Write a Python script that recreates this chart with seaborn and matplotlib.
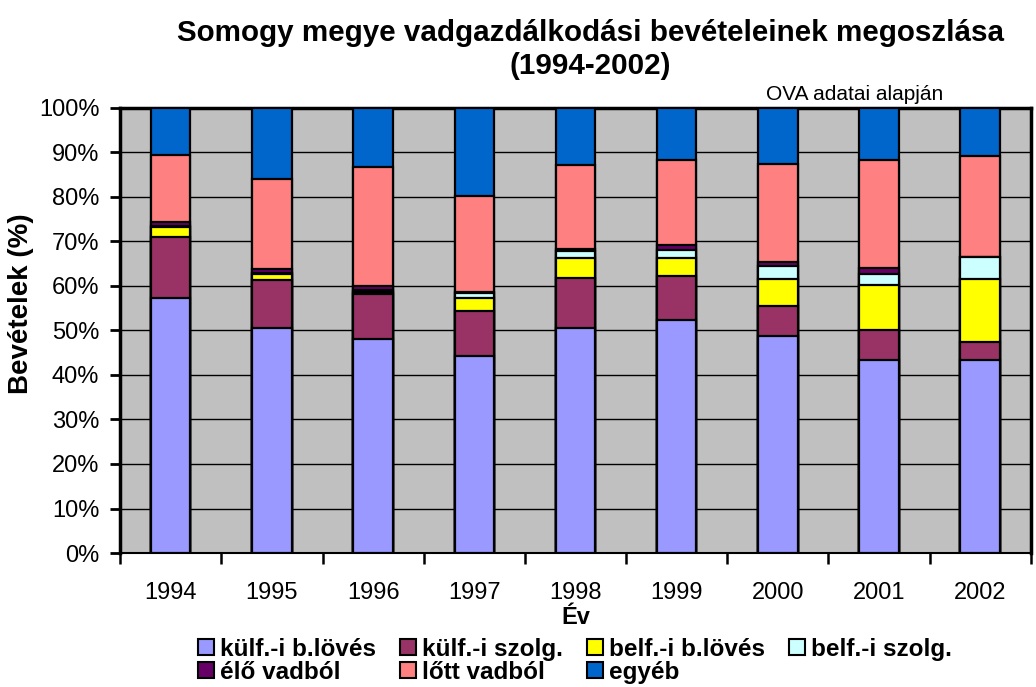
import matplotlib
matplotlib.use("Agg")
import matplotlib.pyplot as plt
import seaborn as sns
import pandas as pd
import numpy as np
from matplotlib import ticker
from matplotlib.patches import Patch

years = ["1994", "1995", "1996", "1997", "1998", "1999", "2000", "2001", "2002"]

kulf_blloves = [57.3, 50.5, 48.0, 44.3, 50.5, 52.4, 48.8, 43.4, 43.4]
kulf_szolg = [13.6, 10.9, 10.1, 10.1, 11.2, 9.8, 6.6, 6.7, 3.9]
belf_blloves = [2.3, 1.3, 0.6, 3.0, 4.5, 4.0, 6.2, 10.0, 14.2]
belf_szolg = [0.3, 0.1, 0.3, 0.9, 1.6, 1.9, 2.8, 2.5, 5.1]
elo_vadbol = [0.9, 1.0, 1.0, 0.3, 0.6, 1.0, 1.0, 1.4, 0.0]
lott_vadbol = [15.0, 20.2, 26.8, 21.6, 18.8, 19.2, 22.0, 24.3, 22.6]
egyeb = [10.6, 16.0, 13.2, 19.8, 12.8, 11.7, 12.6, 11.7, 10.8]

series = [
    ("külf.-i b.lövés", kulf_blloves, "#9999FF"),
    ("külf.-i szolg.", kulf_szolg, "#993366"),
    ("belf.-i b.lövés", belf_blloves, "#FFFF00"),
    ("belf.-i szolg.", belf_szolg, "#CCFFFF"),
    ("élő vadból", elo_vadbol, "#660066"),
    ("lőtt vadból", lott_vadbol, "#FF8080"),
    ("egyéb", egyeb, "#0066CC"),
]

# percentages of each year's total, stacked as cumulative sums
raw = np.array([s[1] for s in series])
share = raw / raw.sum(axis=0) * 100
cum = np.cumsum(share, axis=0)

sns.set_theme(style="white")
plt.rcParams["font.family"] = ["Liberation Sans", "DejaVu Sans"]
for key in ["text.color", "axes.labelcolor", "xtick.color", "ytick.color"]:
    plt.rcParams[key] = "black"

fig = plt.figure(figsize=(10.36, 6.87), dpi=100)
ax = fig.add_axes([0.116, 0.195, 0.879, 0.648])
ax.set_facecolor("#C0C0C0")

# draw tallest cumulative bar first, so lower segments sit on top
for i in range(len(series) - 1, -1, -1):
    df = pd.DataFrame({"year": years, "value": cum[i]})
    sns.barplot(
        data=df, x="year", y="value", color=series[i][2], saturation=1,
        width=0.39, edgecolor="black", linewidth=1.6, ax=ax, zorder=3,
    )

ax.set_ylim(0, 100)
ax.set_xlim(-0.5, len(years) - 0.5)
ax.yaxis.set_major_locator(ticker.MultipleLocator(10))
ax.yaxis.set_major_formatter(ticker.FuncFormatter(lambda v, p: f"{int(v)}%"))
ax.grid(axis="y", color="black", linewidth=1.0, zorder=0)
ax.set_axisbelow(True)

ax.xaxis.set_minor_locator(ticker.FixedLocator(np.arange(-0.5, len(years), 1)))
ax.tick_params(axis="x", which="major", length=0, pad=21, labelsize=17)
ax.tick_params(axis="x", which="minor", length=8, width=1.8, color="black", direction="out", bottom=True)
ax.tick_params(axis="y", which="major", length=7, width=2, color="black", direction="out", left=True,
               labelsize=17, pad=8)

for side in ["top", "right", "left", "bottom"]:
    ax.spines[side].set_visible(True)
    ax.spines[side].set_color("black")
ax.spines["top"].set_linewidth(2.5)
ax.spines["right"].set_linewidth(2.5)
ax.spines["left"].set_linewidth(2.5)
ax.spines["bottom"].set_linewidth(1.5)

ax.set_xlabel("Év", fontsize=17, fontweight="bold", labelpad=1)
ax.set_ylabel("Bevételek (%)", fontsize=20, fontweight="bold")
ax.yaxis.set_label_coords(-0.095, 0.56)

fig.text(0.57, 0.928, "Somogy megye vadgazdálkodási bevételeinek megoszlása\n(1994-2002)",
         ha="center", va="center", fontsize=21.3, fontweight="bold", linespacing=1.25)
fig.text(0.825, 0.862, "OVA adatai alapján", ha="center", va="center", fontsize=15)

order = [0, 4, 1, 5, 2, 6, 3]
handles = [Patch(facecolor=series[k][2], edgecolor="black", linewidth=1.5) for k in order]
labels = [series[k][0] for k in order]
fig.legend(handles, labels, loc="center", bbox_to_anchor=(0.555, 0.038), ncol=4,
           frameon=False, prop={"weight": "bold", "size": 17.5},
           handlelength=0.65, handleheight=0.65, handletextpad=0.25,
           columnspacing=1.0, labelspacing=0.0, borderpad=0.05)

fig.savefig("out.png", dpi=100)
